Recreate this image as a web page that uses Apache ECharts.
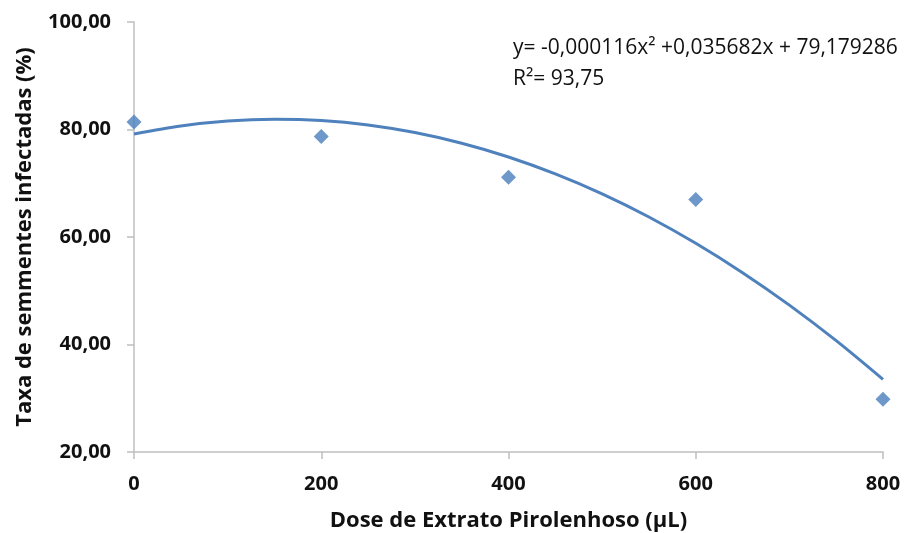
<!DOCTYPE html>
<html>
<head>
<meta charset="utf-8">
<script src="https://cdn.jsdelivr.net/npm/echarts@6/dist/echarts.min.js"></script>
<style>html,body{margin:0;padding:0;background:#fff}#c{width:909px;height:533px}</style>
</head>
<body>
<div id="c"></div>
<script>
const doses = [0, 200, 400, 600, 800];
const observed = [81.4, 78.7, 71.1, 67.0, 29.8];
const trendX = [0, 50, 100, 150, 200, 250, 300, 350, 400, 450, 500, 550, 600, 650, 700, 750, 800];
const trendY = [79.18, 80.67, 81.59, 81.92, 81.68, 80.85, 79.44, 77.45, 74.89, 71.74, 68.02, 63.72, 58.83, 53.37, 47.33, 40.71, 33.51];
const equationText = 'y= -0,000116x² +0,035682x + 79,179286';
const r2Text = 'R²= 93,75';
const xAxisTitle = 'Dose de Extrato Pirolenhoso (µL)';
const yAxisTitle = 'Taxa de semmentes infectadas (%)';

const chart = echarts.init(document.getElementById('c'));
const font = '"Open Sans", "Noto Sans", sans-serif';
const axisColor = '#bfbfbf';
chart.setOption({
  animation: false,
  backgroundColor: '#fff',
  grid: { left: 134, right: 26, top: 22, bottom: 81, containLabel: false, outerBoundsMode: 'none' },
  xAxis: {
    type: 'value', min: 0, max: 800, interval: 200,
    name: xAxisTitle, nameLocation: 'middle', nameGap: 58,
    nameTextStyle: { fontFamily: font, fontWeight: 'bold', fontSize: 22, color: '#111' },
    axisLine: { show: true, lineStyle: { color: axisColor, width: 1.5 } },
    axisTick: { show: true, length: 7, lineStyle: { color: axisColor, width: 1.5 } },
    axisLabel: { fontFamily: font, fontWeight: 'bold', fontSize: 20, color: '#111', margin: 22 },
    splitLine: { show: false }
  },
  yAxis: {
    type: 'value', min: 20, max: 100, interval: 20,
    name: yAxisTitle, nameLocation: 'middle', nameGap: 98, nameRotate: 90,
    nameTextStyle: { fontFamily: font, fontWeight: 'bold', fontSize: 22, color: '#111' },
    axisLine: { show: true, lineStyle: { color: axisColor, width: 1.5 } },
    axisTick: { show: true, length: 7, lineStyle: { color: axisColor, width: 1.5 } },
    axisLabel: { fontFamily: font, fontWeight: 'bold', fontSize: 20, color: '#111', margin: 23,
      formatter: v => v.toFixed(2).replace('.', ',') },
    splitLine: { show: false }
  },
  series: [
    {
      type: 'line', data: trendX.map((x, i) => [x, trendY[i]]),
      smooth: 0.3, showSymbol: false, symbol: 'none',
      lineStyle: { color: '#4f81bd', width: 3 }, z: 2
    },
    {
      type: 'scatter', data: doses.map((x, i) => [x, observed[i]]),
      symbol: 'diamond', symbolSize: [15, 15],
      itemStyle: { color: '#4a7ebb' }, z: 3
    }
  ],
  graphic: [
    { type: 'text', left: 513, top: 38, style: { text: equationText, fontFamily: font, fontSize: 21, fill: '#111' } },
    { type: 'text', left: 513, top: 69, style: { text: r2Text, fontFamily: font, fontSize: 21, fill: '#111' } }
  ]
});
</script>
</body>
</html>
